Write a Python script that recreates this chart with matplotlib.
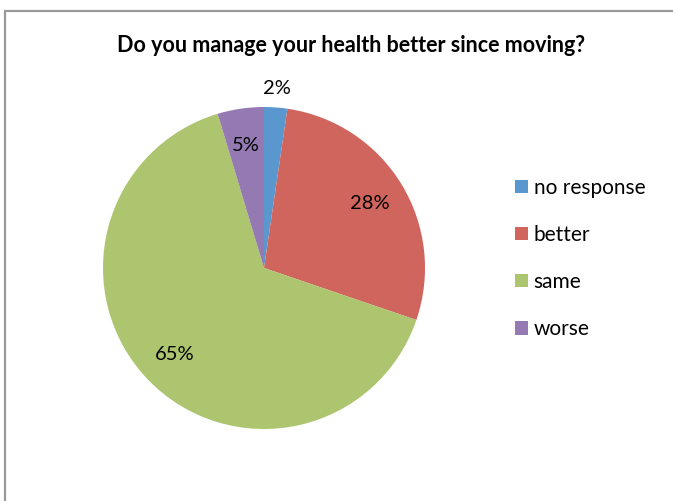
import matplotlib.pyplot as plt
from matplotlib.patches import Rectangle, Patch

plt.rcParams['font.family'] = ['Lato', 'DejaVu Sans']

labels = ['no response', 'better', 'same', 'worse']
counts = [1, 12, 28, 2]
colors = ['#5b97cf', '#d0655d', '#acc56e', '#9579b3']
title = 'Do you manage your health better since moving?'

W, H = 673, 501
fig = plt.figure(figsize=(W / 100, H / 100), dpi=100)

cx, cy, R = 264, 268, 161
ax = fig.add_axes([(cx - R) / W, (H - cy - R) / H, 2 * R / W, 2 * R / H])
wedges, texts, autotexts = ax.pie(
    counts, colors=colors, startangle=90, counterclock=False,
    autopct='%.0f%%', pctdistance=0.77, radius=1,
    wedgeprops=dict(edgecolor='none', linewidth=0),
    textprops=dict(fontsize=14.5, color='black'))
ax.set_xlim(-1, 1)
ax.set_ylim(-1, 1)
ax.set_aspect('equal')

# small slice label sits outside
x, y = autotexts[0].get_position()
s = 1.12 / 0.77
autotexts[0].set_position((x * s, y * s))

fig.text(351 / W, 1 - 45 / H, title, ha='center', va='center',
         fontsize=15.5, fontweight='bold')

handles = [Patch(facecolor=c, edgecolor='none') for c in colors]
fig.legend(handles, labels, loc='upper left',
           bbox_to_anchor=(515 / W, 1 - 178 / H), frameon=False,
           fontsize=15, handlelength=0.6, handleheight=0.6,
           handletextpad=0.3, labelspacing=1.3, borderpad=0,
           borderaxespad=0)

fig.add_artist(Rectangle((5 / W, -0.1), 1.2, 1.1 - 11 / H,
                         transform=fig.transFigure, fill=False,
                         edgecolor='#999999', linewidth=1.6))

fig.savefig('out.png', dpi=100)
